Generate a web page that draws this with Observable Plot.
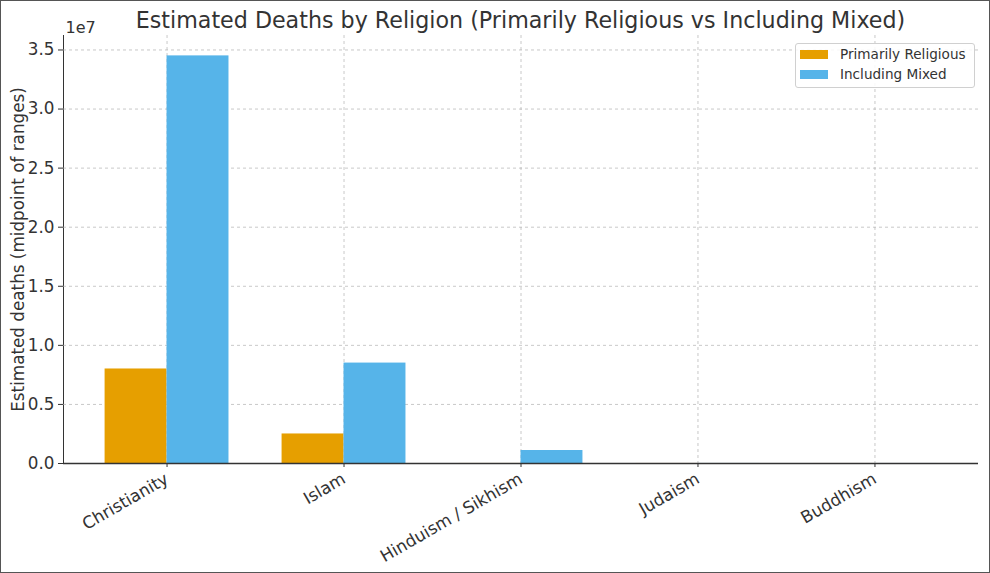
<!DOCTYPE html>
<html>
<head>
<meta charset="utf-8">
<script src="https://cdn.jsdelivr.net/npm/d3@7"></script>
<script src="https://cdn.jsdelivr.net/npm/@observablehq/plot@0.6"></script>
<style>
  body { margin: 0; background: #fff; }
  #wrap { position: relative; width: 990px; height: 573px; font-family: "DejaVu Sans", sans-serif; overflow: hidden; }
  #title { position: absolute; left: 63px; width: 915px; top: 7px; text-align: center; font-size: 22.2px; color: #333; white-space: nowrap; }
  #legend { position: absolute; left: 795px; top: 43px; width: 180px; height: 45px; box-sizing: border-box; border: 1px solid #d0d0d0; border-radius: 3px; background: rgba(255,255,255,0.85); font-size: 13.6px; color: #333; }
  .item { position: absolute; left: 4px; height: 16px; display: flex; align-items: center; }
  .sw { width: 28px; height: 9px; margin-right: 12px; }
  #border { position: absolute; left: 0; top: 0; width: 990px; height: 573px; box-sizing: border-box; border: 1px solid #555; pointer-events: none; }
</style>
</head>
<body>
<div id="wrap">
  <div id="chart"></div>
  <div id="title">Estimated Deaths by Religion (Primarily Religious vs Including Mixed)</div>
  <div id="legend"></div>
  <div id="border"></div>
</div>
<script>
const religions = ["Christianity", "Islam", "Hinduism / Sikhism", "Judaism", "Buddhism"];
const primarilyReligious = [8.0e6, 2.5e6, 3e3, 2e3, 1e3];
const includingMixed = [34.5e6, 8.5e6, 1.1e6, 4e3, 2e3];
const seriesNames = ["Primarily Religious", "Including Mixed"];
const seriesColors = ["#E69F00", "#56B4E9"];
const yTicks = [0, 5e6, 10e6, 15e6, 20e6, 25e6, 30e6, 35e6];

const barWidth = 0.35;
const rows = religions.flatMap((r, i) => [
  {religion: r, i, series: seriesNames[0], value: primarilyReligious[i], side: -1},
  {religion: r, i, series: seriesNames[1], value: includingMixed[i], side: 0}
]);
const idx = religions.map((_, i) => i);
const yMax = d3.max(includingMixed) * 1.05;
const xPad = (religions.length - 1 + 2 * barWidth) * 0.05;

const chart = Plot.plot({
  width: 990,
  height: 573,
  marginTop: 35,
  marginBottom: 110,
  marginLeft: 63,
  marginRight: 12,
  style: {fontFamily: "DejaVu Sans, sans-serif", fontSize: "16.8px", color: "#333", background: "transparent"},
  x: {
    domain: [-barWidth - xPad, religions.length - 1 + barWidth + xPad],
    ticks: idx,
    tickFormat: i => religions[i],
    tickRotate: -30,
    tickSize: 4,
    tickPadding: 10,
    label: null
  },
  y: {
    domain: [0, yMax],
    ticks: yTicks,
    tickFormat: d => (d / 1e7).toFixed(1),
    tickSize: 5,
    line: true,
    label: "Estimated deaths (midpoint of ranges)",
    labelAnchor: "center",
    labelArrow: "none",
    labelOffset: 51
  },
  color: {domain: seriesNames, range: seriesColors},
  marks: [
    Plot.ruleY(yTicks.slice(1), {stroke: "#b0b0b0", strokeOpacity: 0.7, strokeDasharray: "3,3"}),
    Plot.ruleX(idx, {stroke: "#b0b0b0", strokeOpacity: 0.7, strokeDasharray: "3,3"}),
    Plot.rectY(rows, {
      x1: d => d.i + d.side * barWidth,
      x2: d => d.i + (d.side + 1) * barWidth,
      y: "value",
      fill: "series"
    }),
    Plot.ruleY([0], {stroke: "#333", strokeWidth: 1.3}),
    Plot.text(["1e7"], {frameAnchor: "top-left", dy: -14, dx: 2, textAnchor: "start", fontSize: 16, fill: "#333"})
  ]
});
document.getElementById("chart").appendChild(chart);

const legend = document.getElementById("legend");
seriesNames.forEach((name, k) => {
  const item = document.createElement("div");
  item.className = "item";
  item.style.top = (2 + k * 20) + "px";
  const sw = document.createElement("div");
  sw.className = "sw";
  sw.style.background = seriesColors[k];
  const label = document.createElement("span");
  label.textContent = name;
  item.appendChild(sw);
  item.appendChild(label);
  legend.appendChild(item);
});
</script>
</body>
</html>
